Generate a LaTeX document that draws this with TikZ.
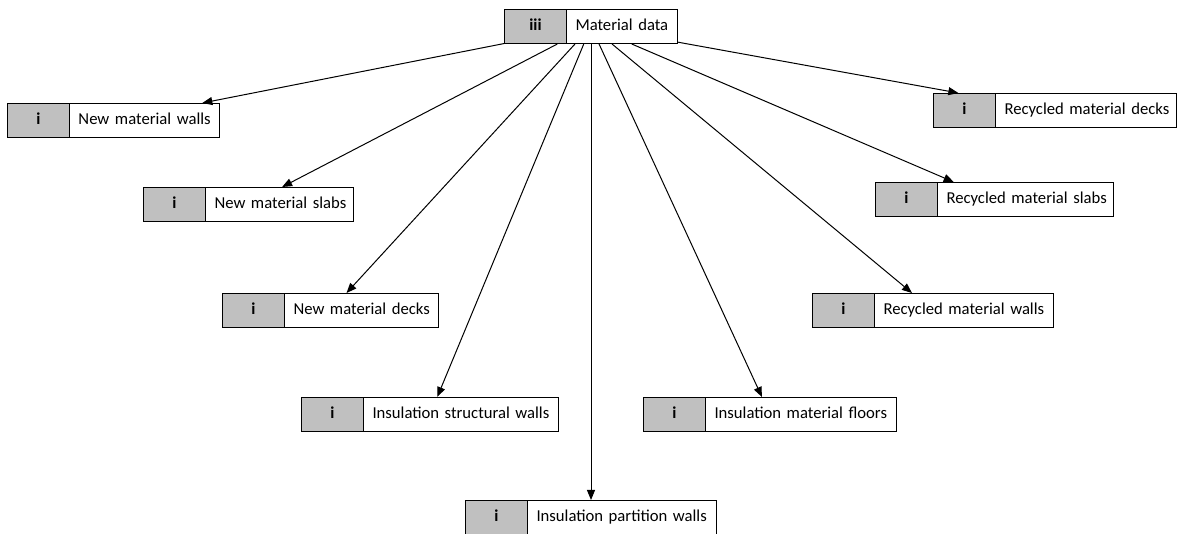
\documentclass[tikz,border=0pt]{standalone}
\usepackage{fontspec}
\setmainfont{Carlito}
\usetikzlibrary{arrows.meta}
\newlength{\pxu}
\setlength{\pxu}{0.75pt}
\definecolor{tagfill}{RGB}{192,192,192}
% box with a grey tag on its left and a caption to the right of it
\newcommand{\tagbox}[5]{% name, x, y, width, tag / caption
  \node[itembox, text width=#4\pxu, minimum width=#4\pxu] (#1) at (#2,#3)
    {\makebox[62\pxu]{\bfseries\strut #5}\hspace{9\pxu}\strut\itemtext};}
\begin{document}
\begin{tikzpicture}[x=\pxu, y=-\pxu,
  itembox/.style={draw, rectangle, anchor=north west, inner sep=0pt,
    minimum height=34\pxu, line width=0.75pt, font=\fontsize{12.5}{15}\selectfont,
    align=left,
    path picture={
      \fill[tagfill] (path picture bounding box.north west) rectangle
        ([xshift=62\pxu]path picture bounding box.south west);
      \draw[line width=1.2pt] ([xshift=62\pxu]path picture bounding box.north west) --
        ([xshift=62\pxu]path picture bounding box.south west);}},
  link/.style={-{Triangle[length=7.5pt,width=6pt]}, line width=0.75pt}]
\useasboundingbox (0,0) rectangle (1179,534);

\def\itemtext{Material data}        \tagbox{top}{504}{9}{173}{iii}
\def\itemtext{New material walls}   \tagbox{nmw}{7}{103}{212}{i}
\def\itemtext{New material slabs}   \tagbox{nms}{143}{187}{210}{i}
\def\itemtext{New material decks}   \tagbox{nmd}{222}{293}{216}{i}
\def\itemtext{Insulation structural walls} \tagbox{isw}{301}{397}{257}{i}
\def\itemtext{Insulation partition walls}  \tagbox{ipw}{465}{500}{251}{i}
\def\itemtext{Insulation material floors}  \tagbox{imf}{643}{397}{253}{i}
\def\itemtext{Recycled material walls}     \tagbox{rmw}{812}{293}{241}{i}
\def\itemtext{Recycled material slabs}     \tagbox{rms}{875}{182}{238}{i}
\def\itemtext{Recycled material decks}     \tagbox{rmd}{933}{93}{243}{i}

\foreach \t in {nmw,nms,nmd,isw,ipw,imf,rmw,rms,rmd}
  \draw[link] (top) -- (\t);
\end{tikzpicture}
\end{document}
